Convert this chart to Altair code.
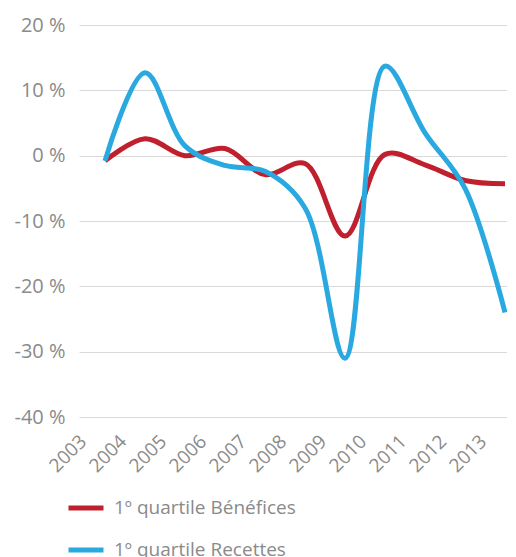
import altair as alt
import pandas as pd

years = [2003, 2004, 2005, 2006, 2007, 2008, 2009, 2010, 2011, 2012, 2013]
benefices = [-0.8, 2.6, 0.0, 1.1, -2.9, -1.2, -12.3, 0.2, -1.4, -3.8, -4.3]
recettes = [-0.8, 12.7, 1.5, -1.5, -2.4, -8.0, -31.0, 13.7, 3.5, -5.0, -24.0]
series_names = ["1º quartile Bénéfices", "1º quartile Recettes"]
line_colors = ["#C0202E", "#29A9E0"]
y_ticks = [-40, -30, -20, -10, 0, 10, 20]

rows = []
for y, b, r in zip(years, benefices, recettes):
    rows.append({"year": y, "value": b, "series": series_names[0]})
    rows.append({"year": y, "value": r, "series": series_names[1]})
df = pd.DataFrame(rows)

FONT = "Open Sans"
GRAY = "#8a8a8a"

x_enc = alt.X(
    "year:Q",
    scale=alt.Scale(domain=[2002.35, 2013.05], nice=False, zero=False),
    axis=alt.Axis(
        values=years, format="d", labelAngle=-45, labelAlign="right",
        labelBaseline="middle", labelPadding=21, labelOffset=-22,
        labelOverlap=False, labelBound=False,
        grid=False, domain=False, ticks=False, title=None,
        labelFont=FONT, labelFontSize=19, labelColor=GRAY,
    ),
)
y_enc = alt.Y(
    "value:Q",
    scale=alt.Scale(domain=[-40, 20], nice=False),
    axis=alt.Axis(
        values=y_ticks, labelExpr="datum.value + ' %'", grid=True,
        gridColor="#d9d9d9", gridWidth=1, domain=False, ticks=False,
        labelPadding=14, title=None, labelFont=FONT, labelFontSize=20,
        labelColor=GRAY,
    ),
)

chart = alt.Chart(df).mark_line(strokeWidth=5, interpolate="catmull-rom").encode(
    x=x_enc,
    y=y_enc,
    color=alt.Color(
        "series:N",
        scale=alt.Scale(domain=series_names, range=line_colors),
        legend=alt.Legend(
            title=None, orient="none", legendX=-13, legendY=463, direction="vertical",
            symbolType="stroke", symbolSize=1225, symbolStrokeWidth=5,
            labelFont=FONT, labelFontSize=19, labelColor=GRAY, labelOffset=8,
            labelLimit=400, rowPadding=12, padding=0,
        ),
    ),
).properties(
    width=428, height=392,
    background="white",
    autosize=alt.AutoSizeParams(type="none"),
    padding={"left": 71, "top": 17, "right": 0, "bottom": 160},
).configure_view(stroke=None)

chart.save("out.html", embed_options={"renderer": "svg", "actions": False})
